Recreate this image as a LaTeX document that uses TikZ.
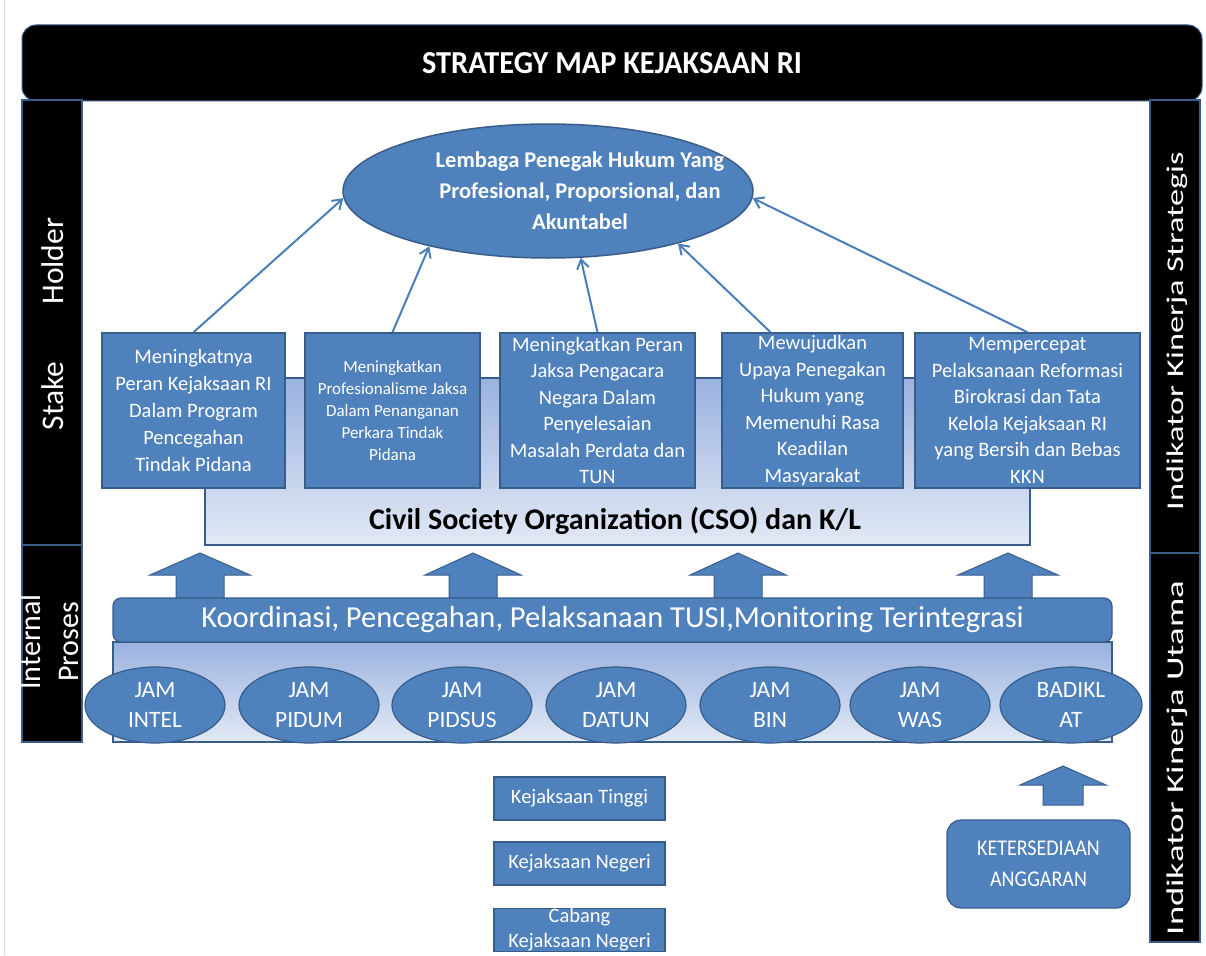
\documentclass[tikz,border=0pt]{standalone}
\usepackage{fontspec}
\setmainfont{Carlito}
\usetikzlibrary{shapes.geometric,arrows.meta}
\definecolor{boxblue}{HTML}{4F81BD}
\definecolor{edgeblue}{HTML}{385D8A}
\definecolor{linkblue}{HTML}{4A7EBB}
\definecolor{bandtop}{HTML}{9AB2DF}
\definecolor{bandbot}{HTML}{E2E9F5}

% up-pointing block arrow: x, tip y, head base y, bottom y, head half width, shaft half width
\newcommand{\UpBlockArrow}[6]{%
  \filldraw[blockarrow] (#1,#2) -- (#1+#5,#3) -- (#1+#6,#3) -- (#1+#6,#4)
    -- (#1-#6,#4) -- (#1-#6,#3) -- (#1-#5,#3) -- cycle;}

\begin{document}
\begin{tikzpicture}[x=1pt,y=-1pt,
  sidebar/.style={rectangle, fill=black, draw=edgeblue, line width=1.5pt},
  sidetext/.style={text=white, rotate=90, align=center},
  goalbox/.style={rectangle, draw=edgeblue, line width=1.5pt, fill=boxblue,
    text=white, align=center, inner sep=0pt, minimum height=155pt},
  smallbox/.style={rectangle, draw=edgeblue, line width=1.2pt, fill=boxblue,
    text=white, align=center, inner sep=0pt, minimum width=171pt, minimum height=43pt,
    font=\fontsize{20.5}{25}\selectfont},
  jam/.style={ellipse, draw=edgeblue, line width=1.2pt, fill=boxblue, text=white,
    align=center, inner sep=0pt, minimum width=140pt, minimum height=76pt,
    font=\fontsize{23.5}{30}\selectfont},
  link/.style={draw=linkblue, line width=2pt, -{Straight Barb[length=9pt,width=12pt]}},
  blockarrow/.style={fill=boxblue, draw=edgeblue, line width=1pt},
  band/.style={draw=edgeblue, line width=1.2pt, top color=bandtop, bottom color=bandbot}
]
\useasboundingbox (0,0) rectangle (1206,955);
\fill[white] (0,0) rectangle (1206,955);
\draw[black!15, line width=1pt] (4,0) -- (4,955);

% title bar
\node[rectangle, rounded corners=14pt, fill=black, draw=edgeblue, line width=1pt,
  minimum width=1180pt, minimum height=76pt, text=white,
  font=\bfseries\fontsize{32}{34}\selectfont] (title) at (612,63)
  {\scalebox{0.95}[1]{STRATEGY MAP KEJAKSAAN RI}};

% perspective columns on the left
\node[sidebar, minimum width=60pt, minimum height=445pt] (stake) at (52,322.5) {};
\node[sidebar, minimum width=60pt, minimum height=197pt] (internal) at (52,643.5) {};
\node[sidetext, font=\fontsize{31.5}{34}\selectfont] (stakelbl) at (53,324) {Stake\hspace{57pt}Holder};
\node[sidetext, font=\fontsize{30}{38}\selectfont] (internallbl) at (49,642) {Internal\\Proses};

% indicator columns on the right
\node[sidebar, minimum width=50pt, minimum height=453pt] (iks) at (1175,326.5) {};
\node[sidebar, minimum width=50pt, minimum height=389pt] (iku) at (1175,747.5) {};
\node[sidetext, font=\fontsize{24}{28}\selectfont] (ikslbl) at (1177,331)
  {\scalebox{1.43}[1]{Indikator Kinerja Strategis}};
\node[sidetext, font=\fontsize{24}{28}\selectfont] (ikulbl) at (1177,758)
  {\scalebox{1.53}[1]{Indikator Kinerja Utama}};

% stakeholder band
\path[band] (205,378) rectangle (1030,545);
\node[font=\bfseries\fontsize{30}{32}\selectfont] (cso) at (615,521) {Civil Society Organization (CSO) dan K/L};

% vision
\node[ellipse, fill=boxblue, draw=edgeblue, line width=1.5pt, minimum width=410pt,
  minimum height=134pt, inner sep=0pt] (goal) at (548,191) {};
\node[text=white, align=center, inner sep=0pt,
  font=\bfseries\fontsize{22.5}{31}\selectfont] (goaltext) at (580,191)
  {Lembaga Penegak Hukum Yang\\Profesional, Proporsional, dan\\Akuntabel};

% strategic objectives
\node[goalbox, minimum width=183pt, font=\fontsize{20.5}{27}\selectfont] (b1) at (193.5,410.5)
  {Meningkatnya\\Peran Kejaksaan RI\\Dalam Program\\Pencegahan\\Tindak Pidana};
\node[goalbox, minimum width=175pt, font=\fontsize{17}{22}\selectfont] (b2) at (392.5,410.5)
  {Meningkatkan\\Profesionalisme Jaksa\\Dalam Penanganan\\Perkara Tindak\\Pidana};
\node[goalbox, minimum width=195pt, font=\fontsize{20.5}{26.5}\selectfont] (b3) at (597.5,410.5)
  {Meningkatkan Peran\\Jaksa Pengacara\\Negara Dalam\\Penyelesaian\\Masalah Perdata dan\\TUN};
\node[goalbox, minimum width=181pt, font=\fontsize{20.5}{26.5}\selectfont] (b4) at (812.5,410.5)
  {Mewujudkan\\Upaya Penegakan\\Hukum yang\\Memenuhi Rasa\\Keadilan\\Masyarakat};
\node[goalbox, minimum width=225pt, font=\fontsize{20.5}{26.5}\selectfont] (b5) at (1027.5,410.5)
  {Mempercepat\\Pelaksanaan Reformasi\\Birokrasi dan Tata\\Kelola Kejaksaan RI\\yang Bersih dan Bebas\\KKN};

\draw[link] (b1.north) -- (goal.182);
\draw[link] (b2.north) -- (goal.205);
\draw[link] (b3.north) -- (goal.296);
\draw[link] ([xshift=-42pt]b4.north) -- (goal.338);
\draw[link] (b5.north) -- (goal.358);

% internal process layer
\UpBlockArrow{200}{553}{575}{598}{50}{24}
\UpBlockArrow{473}{553}{575}{598}{48}{24}
\UpBlockArrow{738}{553}{575}{598}{48}{24}
\UpBlockArrow{1008}{553}{575}{598}{50}{24}

\path[band] (113,642) rectangle (1112,742);
\node[rectangle, rounded corners=8pt, fill=boxblue, draw=edgeblue, line width=1.2pt,
  minimum width=999pt, minimum height=44pt, text=white,
  font=\fontsize{30.5}{32}\selectfont] (koord) at (612.5,620)
  {Koordinasi, Pencegahan, Pelaksanaan TUSI,Monitoring Terintegrasi};

\node[jam] (intel) at (155,705) {JAM\\INTEL};
\node[jam] (pidum) at (309,705) {JAM\\PIDUM};
\node[jam] (pidsus) at (462,705) {JAM\\PIDSUS};
\node[jam] (datun) at (616,705) {JAM\\DATUN};
\node[jam] (bin) at (770,705) {JAM\\BIN};
\node[jam] (was) at (920,705) {JAM\\WAS};
\node[jam, minimum width=142pt] (badiklat) at (1071,705) {BADIKL\\AT};

% regional offices
\node[smallbox] (kejati) at (579.5,798.5) {Kejaksaan Tinggi};
\node[smallbox] (kejari) at (579.5,863.5) {Kejaksaan Negeri};
\node[smallbox] (cabjari) at (579.5,930) {Cabang\\Kejaksaan Negeri};

% budget
\UpBlockArrow{1063}{766}{785}{805}{43}{20}
\node[rectangle, rounded corners=14pt, fill=boxblue, draw=edgeblue, line width=1.2pt,
  minimum width=183pt, minimum height=88pt, text=white, align=center,
  font=\fontsize{22.5}{31}\selectfont] (budget) at (1038.5,864)
  {\scalebox{0.89}[1]{KETERSEDIAAN}\\\scalebox{0.89}[1]{ANGGARAN}};
\end{tikzpicture}
\end{document}
